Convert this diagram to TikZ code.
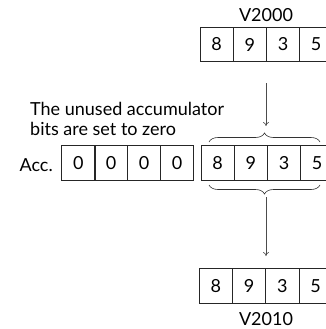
\documentclass[tikz,border=0pt]{standalone}
\usepackage{fontspec}
\setmainfont{Lato}
\usetikzlibrary{arrows.meta,positioning,decorations.pathreplacing}

\tikzset{
  cell/.style={draw=black!85, line width=0.8pt, minimum width=33.2pt, minimum height=34.5pt,
    inner sep=0pt, font=\fontsize{18}{20}\selectfont},
  lbl/.style={inner sep=0pt, font=\fontsize{18}{20}\selectfont},
  flow/.style={draw=black!70, line width=0.6pt, -{To[length=4pt,width=6pt]}},
  brc/.style={draw=black!80, line width=0.6pt, decorate, decoration={brace,amplitude=9pt}}
}

\begin{document}
\begin{tikzpicture}[x=1pt,y=-1pt]
\useasboundingbox (0,0) rectangle (326,329);

% source register
\node[lbl] (vsrc) at (266,15) {V2000};
\foreach \d [count=\i] in {8,9,3,5}
  \node[cell] (src\i) at ({216.6+(\i-1)*33.2},44.5) {\d};

% accumulator
\node[lbl, anchor=east] (acc) at (53,165) {Acc.};
\foreach \d [count=\i] in {0,0,0,0}
  \node[cell] (hi\i) at ({78.3+(\i-1)*32.9},163) {\d};
\foreach \d [count=\i] in {8,9,3,5}
  \node[cell] (lo\i) at ({217.6+(\i-1)*33.2},163) {\d};

\node[lbl, align=left, anchor=north west, font=\fontsize{18}{20}\selectfont] (note) at (30,102)
  {The unused accumulator\\bits are set to zero};

% destination register
\foreach \d [count=\i] in {8,9,3,5}
  \node[cell] (dst\i) at ({215.9+(\i-1)*33.2},286) {\d};
\node[lbl] (vdst) at (266,319) {V2010};

% braces
\draw[brc] (209,142) -- (320,142);
\draw[brc] (320,185) -- (209,185);

% arrows
\coordinate (a1) at (266,83);
\coordinate (a2) at (266,126);
\coordinate (b1) at (266,197);
\coordinate (b2) at (266,256);
\draw[flow] (a1) -- (a2);
\draw[flow] (b1) -- (b2);
\end{tikzpicture}
\end{document}
